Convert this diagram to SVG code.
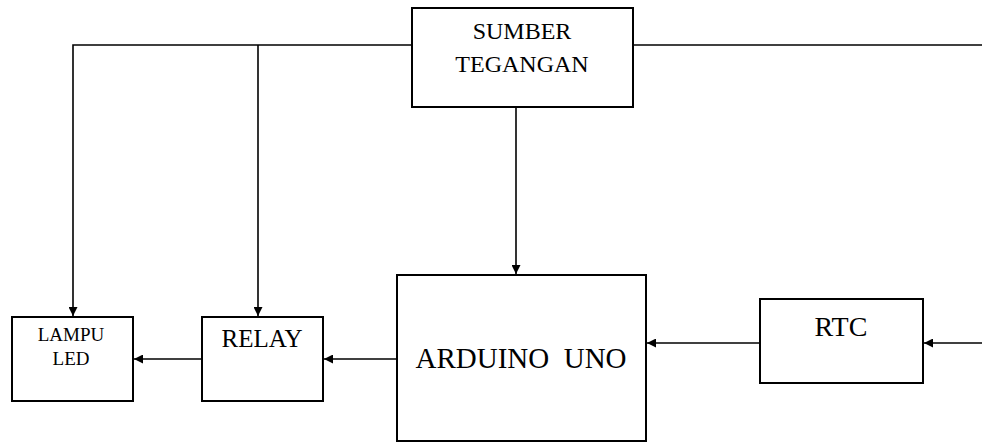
<svg xmlns="http://www.w3.org/2000/svg" width="982" height="442" viewBox="0 0 982 442">
<style>
.box{fill:#fff;stroke:#000;stroke-width:2}
.ln{fill:none;stroke:#000;stroke-width:1.6}
.t{font-family:"Liberation Serif","Times New Roman",serif;fill:#000;text-anchor:middle}
</style>
<defs>
<marker id="ah" viewBox="0 0 10 10" refX="10" refY="5" markerWidth="10" markerHeight="9" markerUnits="userSpaceOnUse" orient="auto">
<path d="M0,0 L10,5 L0,10 z" fill="#000"/>
</marker>
</defs>
<rect width="982" height="442" fill="#fff"/>
<g id="connectors">
<path class="ln" d="M412,45 H73 V316" marker-end="url(#ah)"/>
<path class="ln" d="M258,45 V316" marker-end="url(#ah)"/>
<path class="ln" d="M633,45 H982"/>
<path class="ln" d="M516,107 V274" marker-end="url(#ah)"/>
<path class="ln" d="M202,359 H134" marker-end="url(#ah)"/>
<path class="ln" d="M397,359 H324" marker-end="url(#ah)"/>
<path class="ln" d="M760,343 H647" marker-end="url(#ah)"/>
<path class="ln" d="M982,343 H924" marker-end="url(#ah)"/>
</g>
<g id="sumber">
<rect class="box" x="412" y="8" width="221" height="99"/>
<text class="t" x="522" y="39" font-size="24">SUMBER</text>
<text class="t" x="522" y="72" font-size="24">TEGANGAN</text>
</g>
<g id="lampu">
<rect class="box" x="12" y="317" width="121" height="84"/>
<text class="t" x="71" y="341" font-size="19">LAMPU</text>
<text class="t" x="71" y="365" font-size="19">LED</text>
</g>
<g id="relay">
<rect class="box" x="202" y="317" width="121" height="84"/>
<text class="t" x="262" y="347" font-size="25">RELAY</text>
</g>
<g id="arduino">
<rect class="box" x="397" y="275" width="249" height="166"/>
<text class="t" x="521" y="368" font-size="29" xml:space="preserve">ARDUINO  UNO</text>
</g>
<g id="rtc">
<rect class="box" x="760" y="299" width="163" height="84"/>
<text class="t" x="841" y="336" font-size="28">RTC</text>
</g>
</svg>
